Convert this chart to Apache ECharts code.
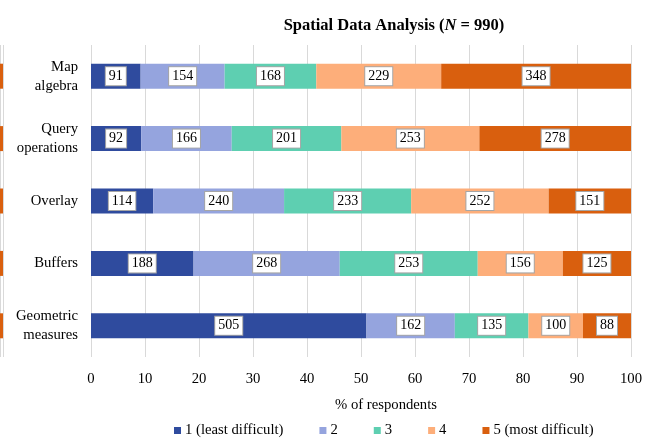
<!DOCTYPE html>
<html>
<head>
<meta charset="utf-8">
<script src="https://cdn.jsdelivr.net/npm/echarts@6/dist/echarts.min.js"></script>
<style>
  html, body { margin: 0; padding: 0; background: #fff; }
  #chart { width: 654px; height: 439px; }
</style>
</head>
<body>
<div id="chart"></div>
<script>
const N = 990
const topics = ['Map\nalgebra', 'Query\noperations', 'Overlay', 'Buffers', 'Geometric\nmeasures']
const levels = ['1 (least difficult)', '2', '3', '4', '5 (most difficult)']
const colors = ['#2f4b9e', '#95a4de', '#5ecfb1', '#fdae7a', '#d95f0e']

// counts per difficulty level, one entry per topic
const level1 = [91, 92, 114, 188, 505]
const level2 = [154, 166, 240, 268, 162]
const level3 = [168, 201, 233, 253, 135]
const level4 = [229, 253, 252, 156, 100]
const level5 = [348, 278, 151, 125, 88]
const counts = [level1, level2, level3, level4, level5]

// right edge of the neighbouring panel that shows at the left border
const neighbourEdge = [100, 100, 100, 100, 100]

const font = 'Liberation Serif'
const fs = 14.7
const chart = echarts.init(document.getElementById('chart'))

const series = counts.map((arr, i) => ({
  name: levels[i],
  type: 'bar',
  stack: 'total',
  barWidth: 25,
  xAxisIndex: 0,
  yAxisIndex: 0,
  itemStyle: { color: colors[i] },
  data: arr.map(v => ({ value: v / N * 100, count: v })),
  label: {
    show: true,
    position: 'inside',
    formatter: p => p.data.count,
    color: '#000',
    fontFamily: font,
    fontSize: 14,
    backgroundColor: '#fff',
    borderColor: '#a6a6a6',
    borderWidth: 1,
    padding: [3, 3, 1, 3]
  }
}))

series.push({
  type: 'bar',
  xAxisIndex: 1,
  yAxisIndex: 1,
  barWidth: 25,
  silent: true,
  itemStyle: { color: colors[4] },
  data: neighbourEdge
})

chart.setOption({
  animation: false,
  title: {
    text: 'Spatial Data Analysis ({i|N} = 990)',
    left: 389,
    top: 12,
    textAlign: 'center',
    textStyle: {
      fontFamily: font, fontSize: 16.5, fontWeight: 'bold', color: '#000',
      rich: { i: { fontFamily: font, fontSize: 16.5, fontWeight: 'bold', fontStyle: 'italic', color: '#000' } }
    }
  },
  legend: {
    top: 418,
    left: 169,
    width: 480,
    itemWidth: 7,
    itemHeight: 7,
    itemGap: 36,
    icon: 'rect',
    data: levels,
    textStyle: { fontFamily: font, fontSize: fs, color: '#000', padding: [0, 0, 0, -1] }
  },
  grid: [
    { left: 91, right: 23, top: 45, bottom: 82 },
    { left: 0, width: 3, top: 45, bottom: 82 }
  ],
  xAxis: [{
    type: 'value',
    gridIndex: 0,
    min: 0,
    max: 100,
    interval: 10,
    name: '% of respondents',
    nameLocation: 'middle',
    nameGap: 41,
    nameTextStyle: { fontFamily: font, fontSize: fs, color: '#000', padding: [0, 0, 0, 50] },
    axisLine: { show: false },
    axisTick: { show: false },
    axisLabel: { fontFamily: font, fontSize: fs, color: '#000', margin: 15 },
    splitLine: { lineStyle: { color: '#d9d9d9' } }
  }, {
    type: 'value',
    gridIndex: 1,
    min: 99,
    max: 100,
    interval: 1,
    axisLine: { show: false },
    axisTick: { show: false },
    axisLabel: { show: false },
    splitLine: { lineStyle: { color: '#d9d9d9' } }
  }],
  yAxis: [{
    type: 'category',
    gridIndex: 0,
    data: topics,
    inverse: true,
    axisLine: { show: false },
    axisTick: { show: false },
    axisLabel: { fontFamily: font, fontSize: fs, color: '#000', margin: 13, lineHeight: 19, align: 'right' }
  }, {
    type: 'category',
    gridIndex: 1,
    data: topics,
    inverse: true,
    axisLine: { show: false },
    axisTick: { show: false },
    axisLabel: { show: false }
  }],
  series: series
})
</script>
</body>
</html>
